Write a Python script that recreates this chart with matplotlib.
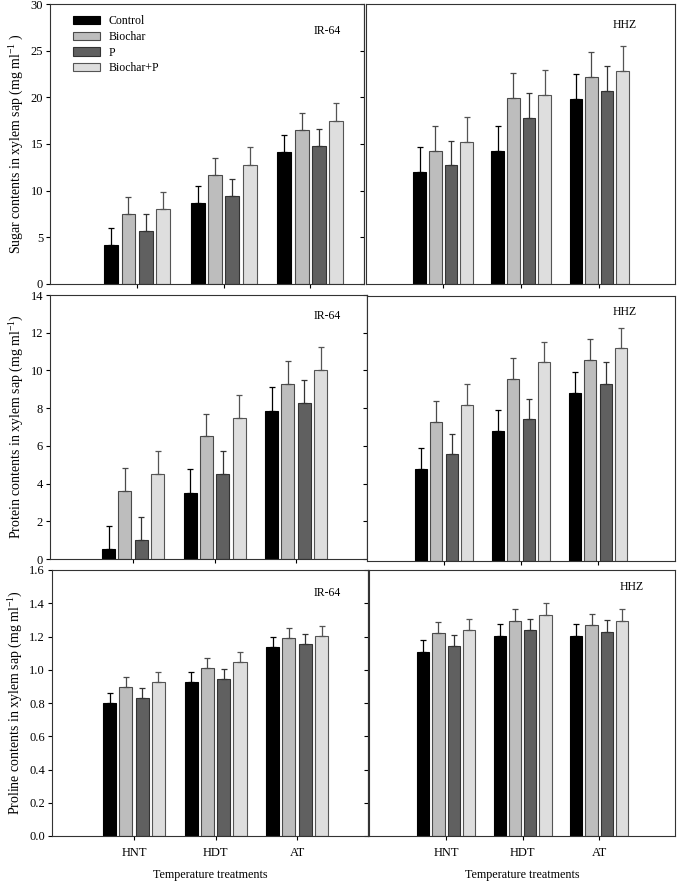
import numpy as np
import matplotlib
matplotlib.use("Agg")
import matplotlib.pyplot as plt
from matplotlib.ticker import FormatStrFormatter

plt.rcParams['font.family'] = ['Liberation Serif', 'DejaVu Serif']
plt.rcParams['mathtext.fontset'] = 'custom'
plt.rcParams['mathtext.rm'] = 'Liberation Serif'
plt.rcParams['mathtext.it'] = 'Liberation Serif:italic'

treatments = ['Control', 'Biochar', 'P', 'Biochar+P']
temps = ['HNT', 'HDT', 'AT']

# rows = treatments, columns = HNT, HDT, AT
sugar_ir64 = [[4.2, 8.7, 14.1], [7.5, 11.7, 16.5], [5.7, 9.4, 14.8], [8.0, 12.8, 17.5]]
sugar_ir64_err = [[1.8, 1.82, 1.9], [1.86, 1.8, 1.85], [1.82, 1.85, 1.8], [1.86, 1.9, 1.85]]
sugar_hhz = [[12.0, 14.3, 19.8], [14.3, 19.9, 22.2], [12.7, 17.8, 20.7], [15.25, 20.25, 22.85]]
sugar_hhz_err = [[2.65, 2.65, 2.7], [2.65, 2.7, 2.65], [2.6, 2.7, 2.7], [2.65, 2.7, 2.65]]

protein_ir64 = [[0.55, 3.5, 7.87], [3.62, 6.5, 9.26], [1.0, 4.5, 8.26], [4.5, 7.5, 10.0]]
protein_ir64_err = [[1.22, 1.28, 1.23], [1.22, 1.21, 1.24], [1.23, 1.23, 1.24], [1.23, 1.22, 1.22]]
protein_hhz = [[4.88, 6.88, 8.86], [7.35, 9.61, 10.61], [5.63, 7.49, 9.37], [8.25, 10.49, 11.23]]
protein_hhz_err = [[1.1, 1.1, 1.1], [1.12, 1.09, 1.11], [1.09, 1.09, 1.12], [1.08, 1.09, 1.1]]

proline_ir64 = [[0.80, 0.926, 1.136], [0.896, 1.01, 1.192], [0.83, 0.946, 1.156], [0.926, 1.046, 1.204]]
proline_ir64_err = [[0.06, 0.06, 0.06], [0.06, 0.06, 0.06], [0.06, 0.06, 0.06], [0.058, 0.06, 0.062]]
proline_hhz = [[1.106, 1.206, 1.202], [1.22, 1.296, 1.268], [1.14, 1.238, 1.226], [1.238, 1.33, 1.296]]
proline_hhz_err = [[0.07, 0.07, 0.072], [0.07, 0.07, 0.07], [0.07, 0.07, 0.072], [0.07, 0.07, 0.07]]

colors = ['#000000', '#bdbdbd', '#606060', '#dedede']
edges = ['#000000', '#4a4a4a', '#333333', '#555555']

W, H = 677, 882
fig = plt.figure(figsize=(W / 100, H / 100), dpi=100)


def rect(x0, x1, y0, y1):
    return [x0 / W, 1 - y1 / H, (x1 - x0) / W, (y1 - y0) / H]


def panel(r, xlim, means, errs, ylim, yticks, name, name_xy, left, bottom, ylabel=None, fmt=None):
    ax = fig.add_axes(rect(*r))
    x = np.arange(1, 4)
    for i in range(4):
        m = np.array(means[i])
        e = np.array(errs[i])
        ax.bar(x + (i - 1.5) * 0.2, m, 0.16, color=colors[i], edgecolor=edges[i], linewidth=0.8,
               yerr=[np.zeros(3), e], ecolor=edges[i], capsize=2.5,
               error_kw=dict(elinewidth=0.9, capthick=0.9), label=treatments[i], zorder=2)
    ax.set_xlim(*xlim)
    ax.set_ylim(*ylim)
    ax.set_xticks(x)
    ax.tick_params(axis='x', direction='out', length=3, width=0.8, labelsize=9, pad=5)
    if bottom:
        ax.set_xticklabels(temps)
        ax.set_xlabel('Temperature treatments', fontsize=8.7, va='center')
        ax.xaxis.set_label_coords(0.5, -39 / (r[3] - r[2]))
    else:
        ax.set_xticklabels([])
    if left:
        ax.set_yticks(yticks)
        ax.tick_params(axis='y', direction='out', length=3, width=0.8, labelsize=9, pad=2)
        if fmt:
            ax.yaxis.set_major_formatter(FormatStrFormatter(fmt))
        sec = ax.secondary_yaxis('right')
        sec.set_yticks(yticks)
        sec.set_yticklabels([])
        sec.tick_params(direction='in', length=3, width=0.8)
        sec.spines['right'].set_color('#333333')
        sec.spines['right'].set_linewidth(0.8)
        ax.set_ylabel(ylabel, fontsize=10, labelpad=3)
    else:
        ax.set_yticks([])
    for s in ax.spines.values():
        s.set_color('#333333')
        s.set_linewidth(0.8)
    ax.text(name_xy[0], name_xy[1], name, transform=ax.transAxes, fontsize=8.5,
            ha='center', va='center')
    return ax


ax1 = panel((50, 364, 4, 284), (-0.006, 3.62), sugar_ir64, sugar_ir64_err, (0, 30), np.arange(0, 31, 5),
            'IR-64', ((327 - 50) / 314, 1 - (31 - 4) / 280), True, False,
            'Sugar contents in xylem sap (mg ml$^{-1}$ )')
ax1.legend(loc='upper left', bbox_to_anchor=(0.04, 0.997), frameon=False, fontsize=8.5,
           handlelength=2.3, handleheight=0.7, handletextpad=0.7, labelspacing=0.3)
panel((366, 675, 4, 284), (0.013, 3.97), sugar_hhz, sugar_hhz_err, (0, 30), None,
      'HHZ', ((625 - 366) / 309, 1 - (25 - 4) / 280), False, False)

panel((50, 367, 295, 559), (-0.02, 3.87), protein_ir64, protein_ir64_err, (0, 14), np.arange(0, 15, 2),
      'IR-64', ((327 - 50) / 317, 1 - (316 - 295) / 264), True, False,
      'Protein contents in xylem sap (mg ml$^{-1}$)')
panel((367, 675, 296, 561), (0.0, 4.0), protein_hhz, protein_hhz_err, (0, 14), None,
      'HHZ', ((625 - 367) / 308, 1 - (312 - 296) / 265), False, False)

panel((52, 368, 570, 836), (-0.006, 3.87), proline_ir64, proline_ir64_err, (0, 1.6), np.arange(0, 1.61, 0.2),
      'IR-64', ((327 - 52) / 316, 1 - (593 - 570) / 266), True, True,
      'Proline contents in xylem sap (mg ml$^{-1}$)', fmt='%.1f')
panel((369, 675, 570, 836), (-0.006, 3.99), proline_hhz, proline_hhz_err, (0, 1.6), None,
      'HHZ', ((632 - 369) / 306, 1 - (587 - 570) / 266), False, True)

fig.savefig('out.png', dpi=100)
